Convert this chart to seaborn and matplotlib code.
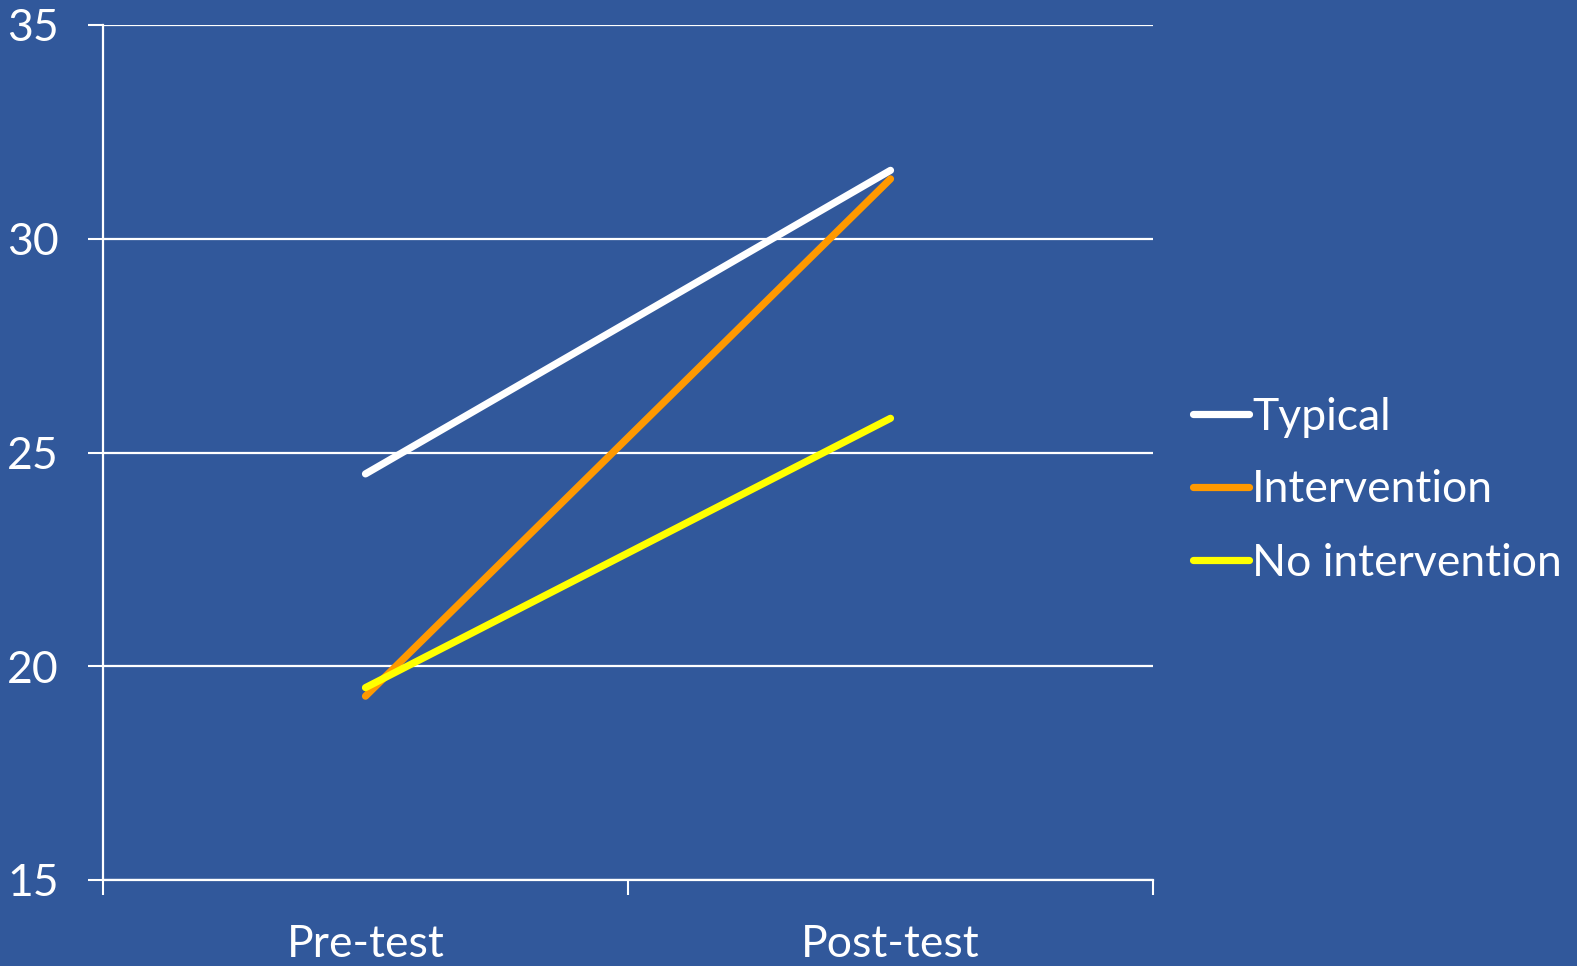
import matplotlib
matplotlib.use("Agg")
import matplotlib.pyplot as plt
import seaborn as sns
import pandas as pd

# Mean scores at each test phase
phases = ["Pre-test", "Post-test"]
typical = [24.5, 31.6]
intervention = [19.3, 31.4]
no_intervention = [19.5, 25.8]

groups = ["Typical", "Intervention", "No intervention"]
colors = ["#FFFFFF", "#FF9900", "#FFFF00"]
y_ticks = [15, 20, 25, 30, 35]

df = pd.DataFrame({
    "phase": phases * 3,
    "score": typical + intervention + no_intervention,
    "group": [g for g in groups for _ in phases],
})

bg = "#31589b"
sns.set_theme(style="white")
plt.rcParams["font.family"] = ["Lato", "DejaVu Sans"]

fig = plt.figure(figsize=(15.77, 9.66), dpi=100, facecolor=bg)
ax = fig.add_axes([103 / 1577, 1 - 880 / 966, 1050 / 1577, 855 / 966])
ax.set_facecolor(bg)

sns.lineplot(data=df, x="phase", y="score", hue="group", hue_order=groups,
             palette=colors, linewidth=5.2, ax=ax, sort=False,
             solid_capstyle="round", legend=True)

ax.set_xlim(-0.5, 1.5)
ax.set_ylim(15, 35)
ax.set_yticks(y_ticks)
ax.set_yticklabels([str(v) for v in y_ticks])
ax.yaxis.grid(True, color="white", linewidth=1.6)
ax.set_axisbelow(True)

# category boundaries as tick marks, labels centred between them
ax.set_xticks([-0.5, 0.5, 1.5])
ax.set_xticklabels(["", "", ""])
ax.set_xticks([0, 1], minor=True)
ax.set_xticklabels(phases, minor=True)
ax.tick_params(axis="x", which="major", length=11, width=1.5, color="white",
               direction="out", bottom=True)
ax.tick_params(axis="x", which="minor", length=0, pad=32,
               labelsize=32, labelcolor="white")
ax.tick_params(axis="y", length=11, width=1.5, color="white", direction="out",
               left=True, pad=21, labelsize=32, labelcolor="white")

for side in ["top", "right"]:
    ax.spines[side].set_visible(False)
for side in ["left", "bottom"]:
    ax.spines[side].set_color("white")
    ax.spines[side].set_linewidth(1.6)

ax.set_xlabel("")
ax.set_ylabel("")

handles, labels = ax.get_legend_handles_labels()
ax.get_legend().remove()
fig.legend(handles, labels, loc="center left",
           bbox_to_anchor=(1193 / 1577, 1 - 490 / 966),
           frameon=False, fontsize=32, labelcolor="white",
           handlelength=1.25, handletextpad=0.08, labelspacing=0.72,
           borderaxespad=0, borderpad=0)

fig.savefig("out.png", dpi=100, facecolor=bg)
